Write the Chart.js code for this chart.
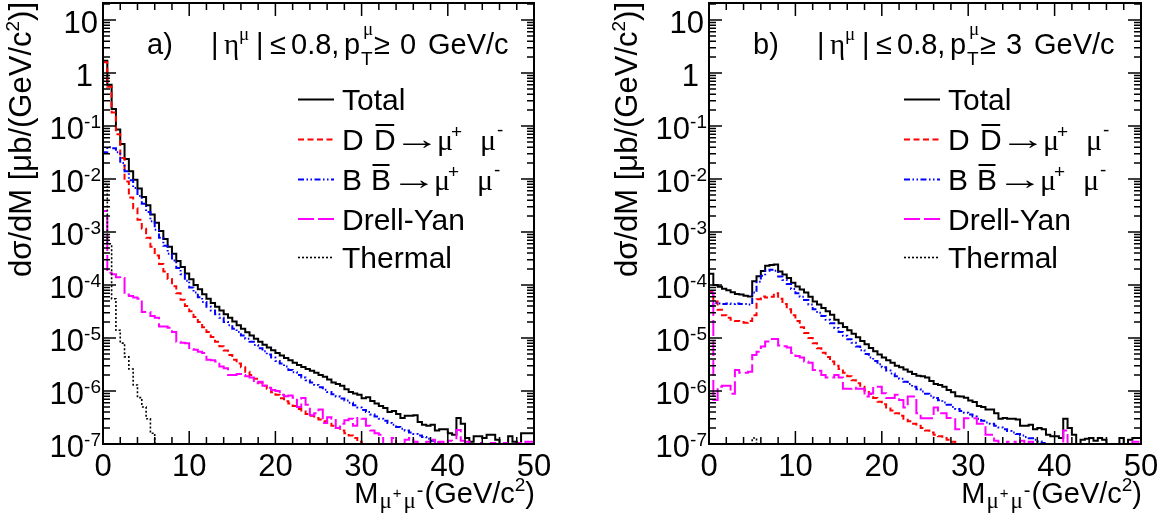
<!DOCTYPE html>
<html>
<head>
<meta charset="utf-8">
<script src="https://cdn.jsdelivr.net/npm/chart.js@4.4.1/dist/chart.umd.min.js"></script>
<style>
  html, body { margin: 0; padding: 0; background: #ffffff; }
  #wrap { position: relative; width: 1165px; height: 523px; overflow: hidden; }
  #wrap canvas { position: absolute; left: 0; top: 0; }
</style>
</head>
<body>
<div id="wrap">
  <canvas id="panelA" width="1165" height="523"></canvas>
  <canvas id="panelB" width="1165" height="523"></canvas>
</div>
<script>
// Dimuon invariant-mass spectra, dσ/dM in μb/(GeV/c²), 0.5 GeV/c² bins from 0 to 50.

const M_MIN = 0;
const M_MAX = 50;
const BIN_WIDTH = 0.5;

// x axis: labelled and minor tick positions (GeV/c²)
const xMajorTicks = [0, 10, 20, 30, 40, 50];
const xMinorStep = 2;
// y axis: decades that carry a label (powers of ten)
const yDecades = [-7, -6, -5, -4, -3, -2, -1, 0, 1];
const Y_MIN = 1e-7;
const Y_MAX = 21;

// ---- panel a) |eta| <= 0.8, pT >= 0 GeV/c ----
const totalA = [
  1.7, 1.7, 0.6, 0.21, 0.086, 0.046, 0.024, 0.014, 0.0097, 0.0066,
  4.6e-3, 3.2e-3, 2.15e-3, 1.5e-3, 1.05e-3, 7.4e-4, 5.3e-4, 3.9e-4, 2.85e-4, 2.2e-4,
  1.65e-4, 1.28e-4, 1.0e-4, 8.3e-5, 6.7e-5, 5.5e-5, 4.6e-5, 3.9e-5, 3.3e-5, 2.8e-5,
  2.4e-5, 2.05e-5, 1.75e-5, 1.5e-5, 1.28e-5, 1.12e-5, 9.7e-6, 8.5e-6, 7.5e-6, 6.6e-6,
  5.9e-6, 5.2e-6, 4.7e-6, 4.2e-6, 3.8e-6, 3.4e-6, 3.1e-6, 2.85e-6, 2.6e-6, 2.4e-6,
  2.2e-6, 2.0e-6, 1.85e-6, 1.65e-6, 1.45e-6, 1.35e-6, 1.25e-6, 1.08e-6, 9.6e-7, 9.0e-7,
  8.5e-7, 7.3e-7, 7.6e-7, 6.5e-7, 5.8e-7, 5.2e-7, 4.8e-7, 4.0e-7, 4.2e-7, 3.7e-7,
  3.1e-7, 3.4e-7, 3.4e-7, 3.5e-7, 2.6e-7, 2.3e-7, 2.2e-7, 2.3e-7, 1.8e-7, 1.9e-7,
  1.9e-7, 1.6e-7, 1.5e-7, 3.1e-7, 2.4e-7, 1.3e-7, 1.1e-7, 1.4e-7, 1.4e-7, 1.3e-7,
  1.5e-7, 1.5e-7, 1.2e-7, 0, 0, 1.4e-7, 1.1e-7, 0, 1.6e-7, 1.6e-7
];
const ddA = [
  1.6, 1.6, 0.55, 0.18, 0.07, 0.025, 0.009, 0.0045, 0.0028, 0.0017,
  1.15e-3, 7.8e-4, 5.3e-4, 3.6e-4, 2.5e-4, 1.8e-4, 1.3e-4, 9.5e-5, 7.0e-5, 5.3e-5,
  4.0e-5, 3.2e-5, 2.5e-5, 2.0e-5, 1.6e-5, 1.3e-5, 1.05e-5, 8.5e-6, 7.0e-6, 5.8e-6,
  4.8e-6, 3.9e-6, 3.3e-6, 2.8e-6, 2.3e-6, 2.0e-6, 1.7e-6, 1.45e-6, 1.25e-6, 1.1e-6,
  9.5e-7, 8.5e-7, 7.3e-7, 6.4e-7, 5.8e-7, 5.2e-7, 4.6e-7, 4.1e-7, 3.7e-7, 3.4e-7,
  3.1e-7, 2.9e-7, 2.7e-7, 2.4e-7, 2.2e-7, 2.0e-7, 1.8e-7, 1.6e-7, 1.45e-7, 1.3e-7,
  1.1e-7, 1.0e-7, 0, 0, 0, 0, 0, 0, 0, 0,
  0, 0, 0, 0, 0, 0, 0, 0, 0, 0,
  0, 0, 0, 0, 0, 0, 0, 0, 0, 0,
  0, 0, 0, 0, 0, 0, 0, 0, 0, 0
];
const bbA = [
  0.015, 0.032, 0.04, 0.038, 0.032, 0.02, 0.014, 0.0095, 0.0068, 0.0048,
  3.4e-3, 2.4e-3, 1.6e-3, 1.1e-3, 7.8e-4, 5.5e-4, 3.9e-4, 2.9e-4, 2.1e-4, 1.6e-4,
  1.2e-4, 9.0e-5, 7.2e-5, 5.9e-5, 4.8e-5, 3.9e-5, 3.3e-5, 2.8e-5, 2.4e-5, 2.0e-5,
  1.75e-5, 1.5e-5, 1.3e-5, 1.12e-5, 9.7e-6, 8.5e-6, 7.4e-6, 6.4e-6, 5.6e-6, 4.9e-6,
  4.3e-6, 3.7e-6, 3.3e-6, 2.9e-6, 2.5e-6, 2.25e-6, 2.0e-6, 1.8e-6, 1.6e-6, 1.45e-6,
  1.3e-6, 1.18e-6, 1.06e-6, 9.6e-7, 8.7e-7, 7.9e-7, 7.2e-7, 6.6e-7, 6.0e-7, 5.4e-7,
  4.9e-7, 4.4e-7, 4.0e-7, 3.6e-7, 3.3e-7, 3.0e-7, 2.75e-7, 2.5e-7, 2.3e-7, 2.1e-7,
  1.95e-7, 1.8e-7, 1.65e-7, 1.55e-7, 1.45e-7, 1.35e-7, 1.25e-7, 1.15e-7, 1.08e-7, 1.02e-7,
  0, 0, 0, 0, 0, 0, 0, 0, 0, 0,
  0, 0, 0, 0, 0, 0, 0, 0, 0, 0
];
const dyA = [
  1.5e-3, 2.5e-3, 1.7e-4, 1.6e-4, 1.4e-4, 1.35e-4, 6.6e-5, 6.2e-5, 5.8e-5, 5.5e-5,
  3.1e-5, 3.1e-5, 2.6e-5, 2.4e-5, 1.65e-5, 1.65e-5, 1.57e-5, 1.3e-5, 8.5e-6, 8.1e-6,
  8.0e-6, 6.2e-6, 6.0e-6, 5.5e-6, 5.2e-6, 3.9e-6, 3.8e-6, 3.6e-6, 2.9e-6, 2.7e-6,
  2.0e-6, 2.0e-6, 2.1e-6, 2.0e-6, 1.9e-6, 1.8e-6, 1.4e-6, 1.5e-6, 1.25e-6, 1.15e-6,
  1.05e-6, 1.0e-6, 8.5e-7, 8.0e-7, 8.2e-7, 7.5e-7, 5.0e-7, 7.4e-7, 5.5e-7, 3.5e-7,
  3.8e-7, 4.5e-7, 2.5e-7, 3.2e-7, 3.0e-7, 2.0e-7, 2.4e-7, 2.8e-7, 3.0e-7, 2.2e-7,
  3.1e-7, 3.0e-7, 2.2e-7, 1.8e-7, 1.6e-7, 1.5e-7, 0, 0, 1.3e-7, 0,
  0, 1.2e-7, 1.3e-7, 1.1e-7, 0, 0, 1.1e-7, 1.2e-7, 0, 1.1e-7,
  0, 1.15e-7, 0, 1.84e-7, 1.15e-7, 1.1e-7, 0, 0, 1.05e-7, 0,
  0, 1.05e-7, 0, 0, 1.05e-7, 0, 0, 1.05e-7, 0, 1.1e-7
];
const thermalA = [
  0.17, 0.008, 6.0e-4, 5.5e-5, 1.4e-5, 8.0e-6, 4.4e-6, 2.6e-6, 1.3e-6, 7.5e-7,
  5.0e-7, 3.0e-7, 1.6e-7, 0, 0, 0, 0, 0, 0, 0,
  0, 0, 0, 0, 0, 0, 0, 0, 0, 0,
  0, 0, 0, 0, 0, 0, 0, 0, 0, 0,
  0, 0, 0, 0, 0, 0, 0, 0, 0, 0,
  0, 0, 0, 0, 0, 0, 0, 0, 0, 0,
  0, 0, 0, 0, 0, 0, 0, 0, 0, 0,
  0, 0, 0, 0, 0, 0, 0, 0, 0, 0,
  0, 0, 0, 0, 0, 0, 0, 0, 0, 0,
  0, 0, 0, 0, 0, 0, 0, 0, 0, 0
];

// ---- panel b) |eta| <= 0.8, pT >= 3 GeV/c ----
const totalB = [
  1.0e-4, 1.64e-4, 1.0e-4, 9.3e-5, 8.5e-5, 8.0e-5, 7.3e-5, 6.8e-5, 6.6e-5, 6.3e-5,
  6.1e-5, 1.18e-4, 1.47e-4, 1.83e-4, 2.3e-4, 2.4e-4, 2.45e-4, 1.8e-4, 1.58e-4, 1.36e-4,
  1.1e-4, 9.4e-5, 8.2e-5, 7.2e-5, 6.0e-5, 4.9e-5, 4.3e-5, 3.7e-5, 3.2e-5, 2.75e-5,
  2.2e-5, 1.9e-5, 1.62e-5, 1.4e-5, 1.2e-5, 1.03e-5, 8.8e-6, 7.6e-6, 6.5e-6, 5.6e-6,
  4.9e-6, 4.3e-6, 3.8e-6, 3.4e-6, 3.0e-6, 2.8e-6, 2.55e-6, 2.3e-6, 2.1e-6, 1.95e-6,
  1.9e-6, 1.8e-6, 1.55e-6, 1.35e-6, 1.3e-6, 1.2e-6, 1.05e-6, 9.5e-7, 8.0e-7, 7.9e-7,
  7.5e-7, 6.6e-7, 6.2e-7, 5.2e-7, 5.0e-7, 4.5e-7, 4.5e-7, 3.8e-7, 3.0e-7, 3.1e-7,
  3.0e-7, 3.0e-7, 2.9e-7, 2.2e-7, 2.2e-7, 2.3e-7, 1.9e-7, 2.0e-7, 1.9e-7, 1.5e-7,
  1.4e-7, 1.4e-7, 1.3e-7, 3.0e-7, 2.0e-7, 1.5e-7, 0, 1.2e-7, 1.25e-7, 1.3e-7,
  1.15e-7, 1.3e-7, 1.2e-7, 0, 0, 0, 1.3e-7, 0, 1.2e-7, 1.3e-7
];
const ddB = [
  3.1e-5, 7.7e-5, 4.9e-5, 3.4e-5, 2.7e-5, 2.4e-5, 2.2e-5, 2.1e-5, 2.0e-5, 1.95e-5,
  2.1e-5, 2.7e-5, 5.4e-5, 6.1e-5, 5.8e-5, 6.0e-5, 7.0e-5, 5.5e-5, 4.4e-5, 3.5e-5,
  2.7e-5, 2.1e-5, 1.6e-5, 1.25e-5, 1.0e-5, 8.0e-6, 6.4e-6, 5.3e-6, 4.4e-6, 3.6e-6,
  3.0e-6, 2.6e-6, 2.2e-6, 1.9e-6, 1.6e-6, 1.4e-6, 1.2e-6, 1.02e-6, 8.8e-7, 7.4e-7,
  6.3e-7, 5.6e-7, 4.9e-7, 4.3e-7, 3.8e-7, 3.4e-7, 3.0e-7, 2.7e-7, 2.4e-7, 2.2e-7,
  2.0e-7, 1.8e-7, 1.65e-7, 1.5e-7, 1.4e-7, 1.3e-7, 1.2e-7, 1.1e-7, 0, 0,
  0, 0, 0, 0, 0, 0, 0, 0, 0, 0,
  0, 0, 0, 0, 0, 0, 0, 0, 0, 0,
  0, 0, 0, 0, 0, 0, 0, 0, 0, 0,
  0, 0, 0, 0, 0, 0, 0, 0, 0, 0
];
const bbB = [
  1.0e-5, 4.0e-5, 4.6e-5, 4.5e-5, 4.4e-5, 4.5e-5, 4.4e-5, 4.5e-5, 4.4e-5, 4.4e-5,
  4.3e-5, 7.2e-5, 1.15e-4, 1.5e-4, 1.85e-4, 1.95e-4, 1.85e-4, 1.45e-4, 1.25e-4, 1.05e-4,
  8.4e-5, 7.0e-5, 6.0e-5, 5.2e-5, 4.3e-5, 3.5e-5, 3.0e-5, 2.6e-5, 2.2e-5, 1.9e-5,
  1.55e-5, 1.3e-5, 1.1e-5, 9.5e-6, 8.1e-6, 6.9e-6, 5.9e-6, 5.0e-6, 4.3e-6, 3.7e-6,
  3.2e-6, 2.8e-6, 2.45e-6, 2.15e-6, 1.9e-6, 1.7e-6, 1.5e-6, 1.35e-6, 1.2e-6, 1.08e-6,
  9.8e-7, 8.9e-7, 8.1e-7, 7.4e-7, 6.7e-7, 6.1e-7, 5.5e-7, 5.0e-7, 4.6e-7, 4.2e-7,
  3.9e-7, 3.6e-7, 3.3e-7, 3.0e-7, 2.75e-7, 2.55e-7, 2.4e-7, 2.2e-7, 2.05e-7, 1.9e-7,
  1.75e-7, 1.65e-7, 1.55e-7, 1.45e-7, 1.35e-7, 1.28e-7, 1.2e-7, 1.12e-7, 1.05e-7, 1.0e-7,
  0, 0, 0, 0, 0, 0, 0, 0, 0, 0,
  0, 0, 0, 0, 0, 0, 0, 0, 0, 0
];
const dyB = [
  5.0e-5, 7.2e-5, 6.8e-7, 1.2e-6, 1.25e-6, 1.25e-6, 8.9e-7, 2.5e-6, 2.2e-6, 2.2e-6,
  2.3e-6, 4.8e-6, 5.5e-6, 6.9e-6, 8.6e-6, 9.6e-6, 9.6e-6, 7.2e-6, 7.0e-6, 6.6e-6,
  5.2e-6, 4.6e-6, 4.3e-6, 3.6e-6, 3.4e-6, 2.5e-6, 2.4e-6, 2.0e-6, 1.8e-6, 1.8e-6,
  2.0e-6, 1.8e-6, 1.1e-6, 1.1e-6, 1.15e-6, 1.1e-6, 1.1e-6, 7.9e-7, 9.0e-7, 1.2e-6,
  1.2e-6, 9.1e-7, 7.4e-7, 7.4e-7, 8.5e-7, 6.8e-7, 4.9e-7, 7.9e-7, 7.9e-7, 3.8e-7,
  3.05e-7, 3.05e-7, 3.05e-7, 4.9e-7, 3.8e-7, 3.8e-7, 3.1e-7, 3.1e-7, 1.9e-7, 1.9e-7,
  3.05e-7, 3.05e-7, 3.05e-7, 2.4e-7, 2.4e-7, 1.5e-7, 1.5e-7, 1.15e-7, 0, 0,
  1.1e-7, 1.1e-7, 0, 1.15e-7, 0, 1.1e-7, 0, 0, 0, 0,
  0, 0, 0, 1.8e-7, 0, 0, 0, 0, 0, 0,
  0, 0, 0, 0, 0, 0, 0, 0, 0, 1.1e-7
];
const thermalB = [
  0, 0, 0, 0, 0, 0, 0, 0, 0, 0,
  0, 1.3e-7, 0, 0, 0, 0, 0, 0, 0, 0,
  0, 0, 0, 0, 0, 0, 0, 0, 0, 0,
  0, 0, 0, 0, 0, 0, 0, 0, 0, 0,
  0, 0, 0, 0, 0, 0, 0, 0, 0, 0,
  0, 0, 0, 0, 0, 0, 0, 0, 0, 0,
  0, 0, 0, 0, 0, 0, 0, 0, 0, 0,
  0, 0, 0, 0, 0, 0, 0, 0, 0, 0,
  0, 0, 0, 0, 0, 0, 0, 0, 0, 0,
  0, 0, 0, 0, 0, 0, 0, 0, 0, 0
];

// ---- drawing styles ----
const SANS = '"Liberation Sans", Arial, Helvetica, sans-serif';
const SERIF = '"Liberation Serif", "Times New Roman", serif';
const TEXT_SIZE = 29;     // header
const LEGEND_SIZE = 30;
const TICK_SIZE = 31;
const TITLE_SIZE = 31;
const SMALL_SIZE = 19;
const EMPTY_BIN = 1e-9;   // empty bins drop below the axis floor

const STYLES = {
  total:   { color: '#000000', dash: [],                      width: 2 },
  dd:      { color: '#ff0000', dash: [6, 3.5],                width: 2 },
  bb:      { color: '#0000ff', dash: [6, 2.5, 1.5, 2.5, 1.5, 2.5], width: 2 },
  dy:      { color: '#ff00ff', dash: [16, 4],                 width: 2 },
  thermal: { color: '#000000', dash: [2, 2],                  width: 1.6 }
};
const LEGEND_ORDER = ['total', 'dd', 'bb', 'dy', 'thermal'];

function histPoints(values) {
  const pts = values.map((v, i) => ({ x: M_MIN + i * BIN_WIDTH, y: v > 0 ? v : EMPTY_BIN }));
  pts.push({ x: M_MIN + values.length * BIN_WIDTH, y: pts[pts.length - 1].y });
  return pts;
}

function setFont(ctx, size, fam) { ctx.font = size + 'px ' + fam; }

function textAt(ctx, str, x, y, size, fam) {
  setFont(ctx, size || TEXT_SIZE, fam || SANS);
  ctx.fillText(str, x, y);
  return ctx.measureText(str).width;
}

// runs: {t, size, fam, dy, gap}; drawn one after another from x on baseline y
function runsWidth(ctx, runs, base) {
  let w = 0;
  for (const r of runs) { setFont(ctx, r.size || base, r.fam || SANS); w += ctx.measureText(r.t).width + (r.gap || 0); }
  return w;
}
function drawRuns(ctx, runs, x, y, base) {
  let cx = x;
  for (const r of runs) {
    setFont(ctx, r.size || base, r.fam || SANS);
    ctx.fillText(r.t, cx, y + (r.dy || 0));
    cx += ctx.measureText(r.t).width + (r.gap || 0);
  }
  return cx - x;
}

function overlined(ctx, letter, x, y) {
  const w = textAt(ctx, letter, x, y, LEGEND_SIZE);
  ctx.save();
  ctx.lineWidth = 2;
  ctx.beginPath();
  ctx.moveTo(x + 1.5, y - 25);
  ctx.lineTo(x + w - 1.5, y - 25);
  ctx.stroke();
  ctx.restore();
  return w;
}

// right arrow whose drawn glyph spans exactly [x, x + width]
function arrowAt(ctx, x, y, width) {
  setFont(ctx, LEGEND_SIZE, SANS);
  const m = ctx.measureText('→');
  const inkL = -(m.actualBoundingBoxLeft || 0);
  const inkW = (m.actualBoundingBoxRight || m.width) - inkL;
  const s = width / inkW;
  ctx.save();
  ctx.translate(x - inkL * s, y);
  ctx.scale(s, 1);
  ctx.fillText('→', 0, 0);
  ctx.restore();
}

function makeAxesPlugin(tag, ptCut) {
  return {
    id: 'rootAxes',
    afterDraw(chart) {
      const ctx = chart.ctx;
      const xs = chart.scales.x, ys = chart.scales.y;
      const { left: L, right: R, top: T, bottom: B } = chart.chartArea;
      ctx.save();
      ctx.fillStyle = '#000';
      ctx.strokeStyle = '#000';

      // frame
      ctx.lineWidth = 2;
      ctx.strokeRect(L, T, R - L, B - T);

      // x ticks, bottom and top, pointing inwards
      ctx.lineWidth = 1.5;
      ctx.beginPath();
      for (let m = M_MIN; m <= M_MAX; m += xMinorStep) {
        const px = xs.getPixelForValue(m);
        const len = xMajorTicks.includes(m) ? 13 : 7;
        ctx.moveTo(px, B); ctx.lineTo(px, B - len);
        ctx.moveTo(px, T); ctx.lineTo(px, T + len);
      }
      // y ticks (log), left and right
      for (const e of yDecades) {
        for (let k = 1; k <= 9; k++) {
          const v = k * Math.pow(10, e);
          if (v < Y_MIN || v > Y_MAX) continue;
          const py = ys.getPixelForValue(v);
          const len = k === 1 ? 13 : 7;
          ctx.moveTo(L, py); ctx.lineTo(L + len, py);
          ctx.moveTo(R, py); ctx.lineTo(R - len, py);
        }
      }
      ctx.stroke();

      // x tick labels
      ctx.textAlign = 'center';
      setFont(ctx, TICK_SIZE, SANS);
      for (const m of xMajorTicks) {
        ctx.fillText(String(m), xs.getPixelForValue(m), B + 32);
      }
      ctx.textAlign = 'left';

      // y tick labels: 1, 10 plain; others as 10 with a superscript power
      for (const e of yDecades) {
        const py = ys.getPixelForValue(Math.pow(10, e));
        if (e === 0 || e === 1) {
          const s = e === 0 ? '1' : '10';
          setFont(ctx, TICK_SIZE, SANS);
          const w = ctx.measureText(s).width;
          ctx.fillText(s, L - (e === 0 ? 10 : 5) - w, py + 13);
        } else {
          const runs = [{ t: '10' }, { t: String(e), size: SMALL_SIZE, dy: -11.5 }];
          const w = runsWidth(ctx, runs, TICK_SIZE);
          drawRuns(ctx, runs, L - 2 - w, py + 13, TICK_SIZE);
        }
      }

      // y axis title, rotated, ending at the top of the frame
      const yTitle = [
        { t: 'dσ/dM [μb/(GeV/c' },
        { t: '2', size: SMALL_SIZE, dy: -12 },
        { t: ')]' }
      ];
      ctx.save();
      ctx.translate(L - 72, 0);
      ctx.rotate(-Math.PI / 2);
      const yw = runsWidth(ctx, yTitle, TITLE_SIZE);
      drawRuns(ctx, yTitle, -(T - 1 + yw), 0, TITLE_SIZE);
      ctx.restore();

      // x axis title, right-aligned with the frame
      const xTitle = [
        { t: 'M', gap: 1 },
        { t: 'μ', size: 23, fam: SERIF, dy: 5, gap: 1 },
        { t: '+', size: 15, dy: -5, gap: 2 },
        { t: 'μ', size: 23, fam: SERIF, dy: 5, gap: 1 },
        { t: '-', size: 20, dy: -6, gap: 1 },
        { t: '(GeV/c' },
        { t: '2', size: SMALL_SIZE, dy: -12 },
        { t: ')' }
      ];
      const xw = runsWidth(ctx, xTitle, TEXT_SIZE);
      drawRuns(ctx, xTitle, R + 1 - xw, 503, TEXT_SIZE);

      // panel header
      const hy = 54;
      textAt(ctx, tag, L + 44, hy);
      textAt(ctx, '|', L + 108, hy);
      textAt(ctx, 'η', L + 121, hy, TEXT_SIZE, SERIF);
      textAt(ctx, 'μ', L + 136, hy - 14, SMALL_SIZE, SERIF);
      textAt(ctx, '|', L + 153, hy);
      textAt(ctx, '≤', L + 167, hy);
      textAt(ctx, '0.8,', L + 188, hy);
      textAt(ctx, 'p', L + 241, hy);
      textAt(ctx, 'μ', L + 260, hy - 19, SMALL_SIZE, SERIF);
      textAt(ctx, 'T', L + 258, hy + 11, SMALL_SIZE, SANS);
      textAt(ctx, '≥', L + 271, hy);
      textAt(ctx, ptCut, L + 297, hy);
      textAt(ctx, 'GeV/c', L + 325, hy);

      // legend
      const baselines = [110, 150, 190, 229.5, 268];
      LEGEND_ORDER.forEach((key, i) => {
        const st = STYLES[key];
        const by = baselines[i];
        ctx.save();
        ctx.strokeStyle = st.color;
        ctx.lineWidth = st.width;
        ctx.setLineDash(st.dash);
        ctx.beginPath();
        ctx.moveTo(L + 195, by - 10.5);
        ctx.lineTo(L + 231, by - 10.5);
        ctx.stroke();
        ctx.restore();
        const tx = L + 239;
        if (key === 'total') textAt(ctx, 'Total', tx, by, LEGEND_SIZE);
        if (key === 'dy') textAt(ctx, 'Drell-Yan', tx, by, LEGEND_SIZE);
        if (key === 'thermal') textAt(ctx, 'Thermal', tx, by, LEGEND_SIZE);
        if (key === 'dd' || key === 'bb') {
          const q = key === 'dd' ? 'D' : 'B';
          textAt(ctx, q, tx, by, LEGEND_SIZE);
          overlined(ctx, q, tx + (key === 'dd' ? 32 : 29), by);
          const ax = tx + (key === 'dd' ? 61 : 58);
          arrowAt(ctx, ax, by - 1, 28);
          textAt(ctx, 'μ', ax + 34, by, LEGEND_SIZE, SERIF);
          textAt(ctx, '+', ax + 48, by - 12, SMALL_SIZE, SANS);
          textAt(ctx, 'μ', ax + 77, by, LEGEND_SIZE, SERIF);
          textAt(ctx, '-', ax + 94, by - 14, SMALL_SIZE, SANS);
        }
      });
      ctx.restore();
    }
  };
}

function buildPanel(canvasId, tag, ptCut, frameLeft, frameRight, series) {
  const datasets = ['thermal', 'dy', 'bb', 'dd', 'total'].map(key => ({
    label: key,
    data: histPoints(series[key]),
    borderColor: STYLES[key].color,
    borderWidth: STYLES[key].width,
    borderDash: STYLES[key].dash,
    stepped: 'after',
    pointRadius: 0,
    fill: false,
    tension: 0,
    clip: 1
  }));
  return new Chart(document.getElementById(canvasId), {
    type: 'line',
    data: { datasets },
    options: {
      responsive: false,
      animation: false,
      events: [],
      layout: { padding: { left: frameLeft, right: 1165 - frameRight, top: 3, bottom: 523 - 444 } },
      plugins: { legend: { display: false }, tooltip: { enabled: false }, title: { display: false } },
      scales: {
        x: { type: 'linear', min: M_MIN, max: M_MAX, display: false },
        y: { type: 'logarithmic', min: Y_MIN, max: Y_MAX, display: false }
      }
    },
    plugins: [makeAxesPlugin(tag, ptCut)]
  });
}

buildPanel('panelA', 'a)', '0', 103, 534,
  { total: totalA, dd: ddA, bb: bbA, dy: dyA, thermal: thermalA });
buildPanel('panelB', 'b)', '3', 709, 1141,
  { total: totalB, dd: ddB, bb: bbB, dy: dyB, thermal: thermalB });
</script>
</body>
</html>
